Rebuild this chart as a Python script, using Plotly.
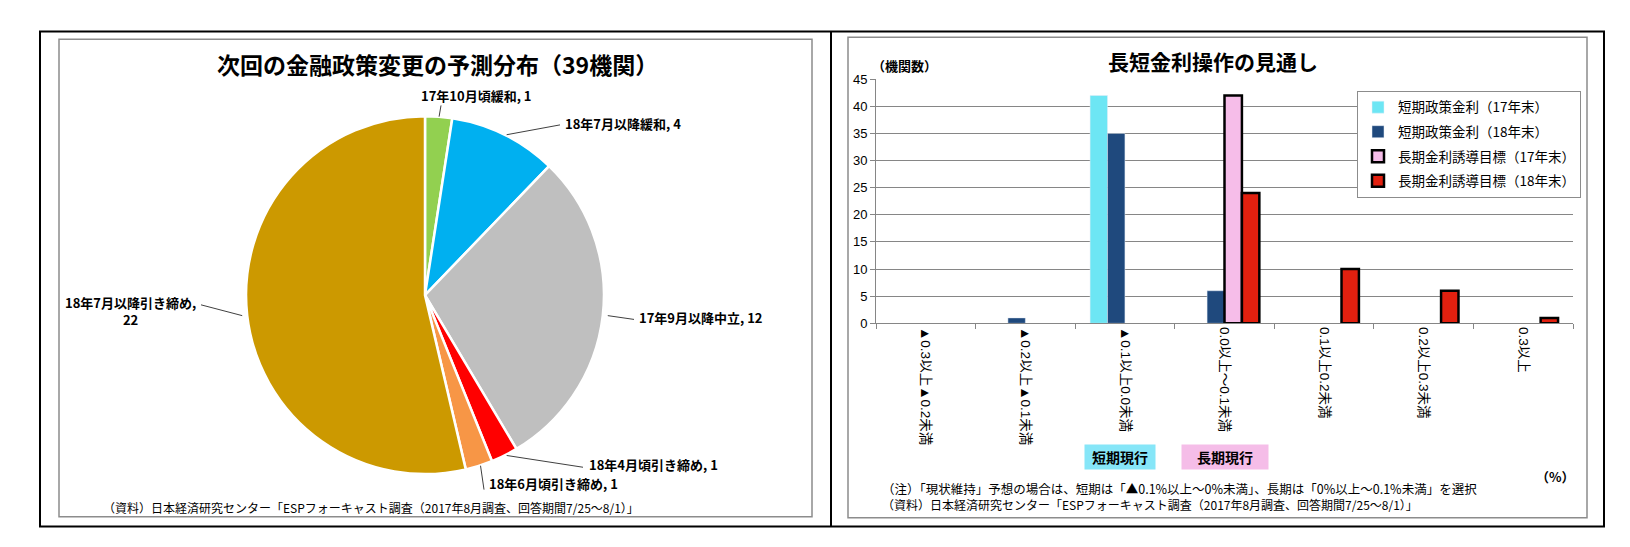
import math
import plotly.graph_objects as go

W, H = 1630, 547

# --- pie: 次回の金融政策変更の予測分布 ---
pie_labels = ["17年10月頃緩和", "18年7月以降緩和", "17年9月以降中立",
              "18年4月頃引き締め", "18年6月頃引き締め", "18年7月以降引き締め"]
pie_values = [1, 4, 12, 1, 1, 22]

# --- bars: 長短金利操作の見通し ---
bar_categories = ["▲0.3以上▲0.2未満", "▲0.2以上▲0.1未満", "▲0.1以上0.0未満",
                  "0.0以上～0.1未満", "0.1以上0.2未満", "0.2以上0.3未満", "0.3以上"]
short_17 = [0, 0, 42, 0, 0, 0, 0]
short_18 = [0, 1, 35, 6, 0, 0, 0]
long_17 = [0, 0, 0, 42, 0, 0, 0]
long_18 = [0, 0, 0, 24, 10, 6, 1]
series_names = ["短期政策金利（17年末）", "短期政策金利（18年末）",
                "長期金利誘導目標（17年末）", "長期金利誘導目標（18年末）"]

JP = "Noto Sans CJK JP"
NUM = "Liberation Sans, Noto Sans CJK JP"


def px(x):
    return x / W


def py(y):
    return 1 - y / H


# pie geometry (pixels)
cx, cy, r = 417, 288, 184
pie_colors = ["#92D050", "#00B0F0", "#BFBFBF", "#FF0000", "#F79646", "#CC9900"]

fig = go.Figure()
fig.add_trace(go.Pie(
    labels=pie_labels, values=pie_values, sort=False, direction="clockwise",
    rotation=0, textinfo="none", showlegend=False,
    marker=dict(colors=pie_colors, line=dict(color="white", width=2.5)),
    domain=dict(x=[px(cx - r), px(cx + r)], y=[py(cy + r), py(cy - r)]),
))

bar_styles = [
    dict(color="#6DE6F4"),
    dict(color="#1F497D"),
    dict(color="#F6BDE9", line=dict(color="black", width=2.5)),
    dict(color="#E2200F", line=dict(color="black", width=2.5)),
]
for i, (name, vals, st) in enumerate(zip(series_names, [short_17, short_18, long_17, long_18], bar_styles)):
    fig.add_trace(go.Bar(x=bar_categories, y=[v if v else None for v in vals],
                         name=name, marker=st, legendgroup=f"g{i}"))

# label anchor points for pie (pixels): line end, text position, anchor
label_pos = [
    ((433, 93), (468, 83), "center"),
    ((552, 113), (555, 112), "left"),
    ((626, 313), (629, 311), "left"),
    ((575, 465), (579, 462), "left"),
    ((476, 488), (479, 482), "left"),
    ((193, 298), (123, 304), "center"),
]

shapes = [
    dict(type="rect", xref="paper", yref="paper", x0=px(32), x1=px(1596), y0=py(526), y1=py(17),
         line=dict(color="black", width=2)),
    dict(type="line", xref="paper", yref="paper", x0=px(823), x1=px(823), y0=py(526), y1=py(17),
         line=dict(color="black", width=2)),
    dict(type="rect", xref="paper", yref="paper", x0=px(51), x1=px(804), y0=py(516), y1=py(25),
         line=dict(color="#8C8C8C", width=1.5)),
    dict(type="rect", xref="paper", yref="paper", x0=px(840), x1=px(1579), y0=py(517), y1=py(23),
         line=dict(color="#8C8C8C", width=1.5)),
]
annotations = []
total = sum(pie_values)
cum = 0
for lab, val, (lend, tpos, anc) in zip(pie_labels, pie_values, label_pos):
    mid = (cum + val / 2) / total * 2 * math.pi
    cum += val
    ex, ey = cx + r * math.sin(mid), cy - r * math.cos(mid)
    shapes.append(dict(type="line", xref="paper", yref="paper", x0=px(ex), y0=py(ey),
                       x1=px(lend[0]), y1=py(lend[1]), line=dict(color="#404040", width=1)))
    text = f"<b>{lab}, {val}</b>" if anc != "center" or tpos[1] < 200 else f"<b>{lab},<br>{val}</b>"
    annotations.append(dict(x=px(tpos[0]), y=py(tpos[1]), text=text, xanchor=anc,
                            font=dict(family=JP, size=13, color="black")))

annotations += [
    dict(x=px(430), y=py(50), text="<b>次回の金融政策変更の予測分布（39機関）</b>",
         font=dict(family=JP, size=23, color="black")),
    dict(x=px(1205), y=py(47), text="<b>長短金利操作の見通し</b>",
         font=dict(family=JP, size=21, color="black")),
    dict(x=px(896), y=py(52), text="<b>（機関数）</b>", font=dict(family=JP, size=13, color="black")),
    dict(x=px(93), y=py(506), xanchor="left",
         text="（資料）日本経済研究センター「ESPフォーキャスト調査（2017年8月調査、回答期間7/25～8/1）」",
         font=dict(family=JP, size=12, color="black")),
    dict(x=px(872), y=py(487), xanchor="left",
         text="（注）「現状維持」予想の場合は、短期は「▲0.1%以上～0%未満」、長期は「0%以上～0.1%未満」を選択",
         font=dict(family=JP, size=12.5, color="black")),
    dict(x=px(872), y=py(503), xanchor="left",
         text="（資料）日本経済研究センター「ESPフォーキャスト調査（2017年8月調査、回答期間7/25～8/1）」",
         font=dict(family=JP, size=12, color="black")),
    dict(x=px(1547), y=py(474), text="<b>（%）</b>", font=dict(family=JP, size=13, color="black")),
    dict(x=px(1112), y=py(454), text="<b>短期現行</b>", bgcolor="#86E6F8", width=68, height=22,
         font=dict(family=JP, size=14, color="black")),
    dict(x=px(1217), y=py(454), text="<b>長期現行</b>", bgcolor="#F5BDE8", width=84, height=22,
         font=dict(family=JP, size=14, color="black")),
]
for a in annotations:
    a.setdefault("xref", "paper")
    a.setdefault("yref", "paper")
    a.setdefault("showarrow", False)
    a.setdefault("xanchor", "center")
    a.setdefault("yanchor", "middle")

fig.update_layout(
    width=W, height=H, autosize=False, margin=dict(l=0, r=0, t=0, b=0),
    paper_bgcolor="white", plot_bgcolor="white",
    barmode="group", bargap=0.3, bargroupgap=0,
    xaxis=dict(domain=[px(868), px(1565)], type="category", tickson="boundaries",
               ticks="outside", ticklen=5, tickcolor="#868686", showline=True,
               linecolor="#868686", tickangle=90, showgrid=False,
               tickfont=dict(family=NUM, size=13.5, color="black")),
    yaxis=dict(domain=[py(317), py(66)], range=[0, 45], dtick=5, showgrid=True,
               gridcolor="#868686", gridwidth=1, ticks="outside", ticklen=5,
               tickcolor="#868686", showline=True, linecolor="#868686", zeroline=False,
               tickfont=dict(family=NUM, size=13, color="black")),
    legend=dict(x=px(1349), y=py(78), xanchor="left", yanchor="top",
                bordercolor="#8C8C8C", borderwidth=1, bgcolor="white",
                tracegroupgap=4, itemwidth=30,
                font=dict(family=JP, size=13.5, color="black")),
    shapes=shapes, annotations=annotations,
)

fig.write_html("out.html")
